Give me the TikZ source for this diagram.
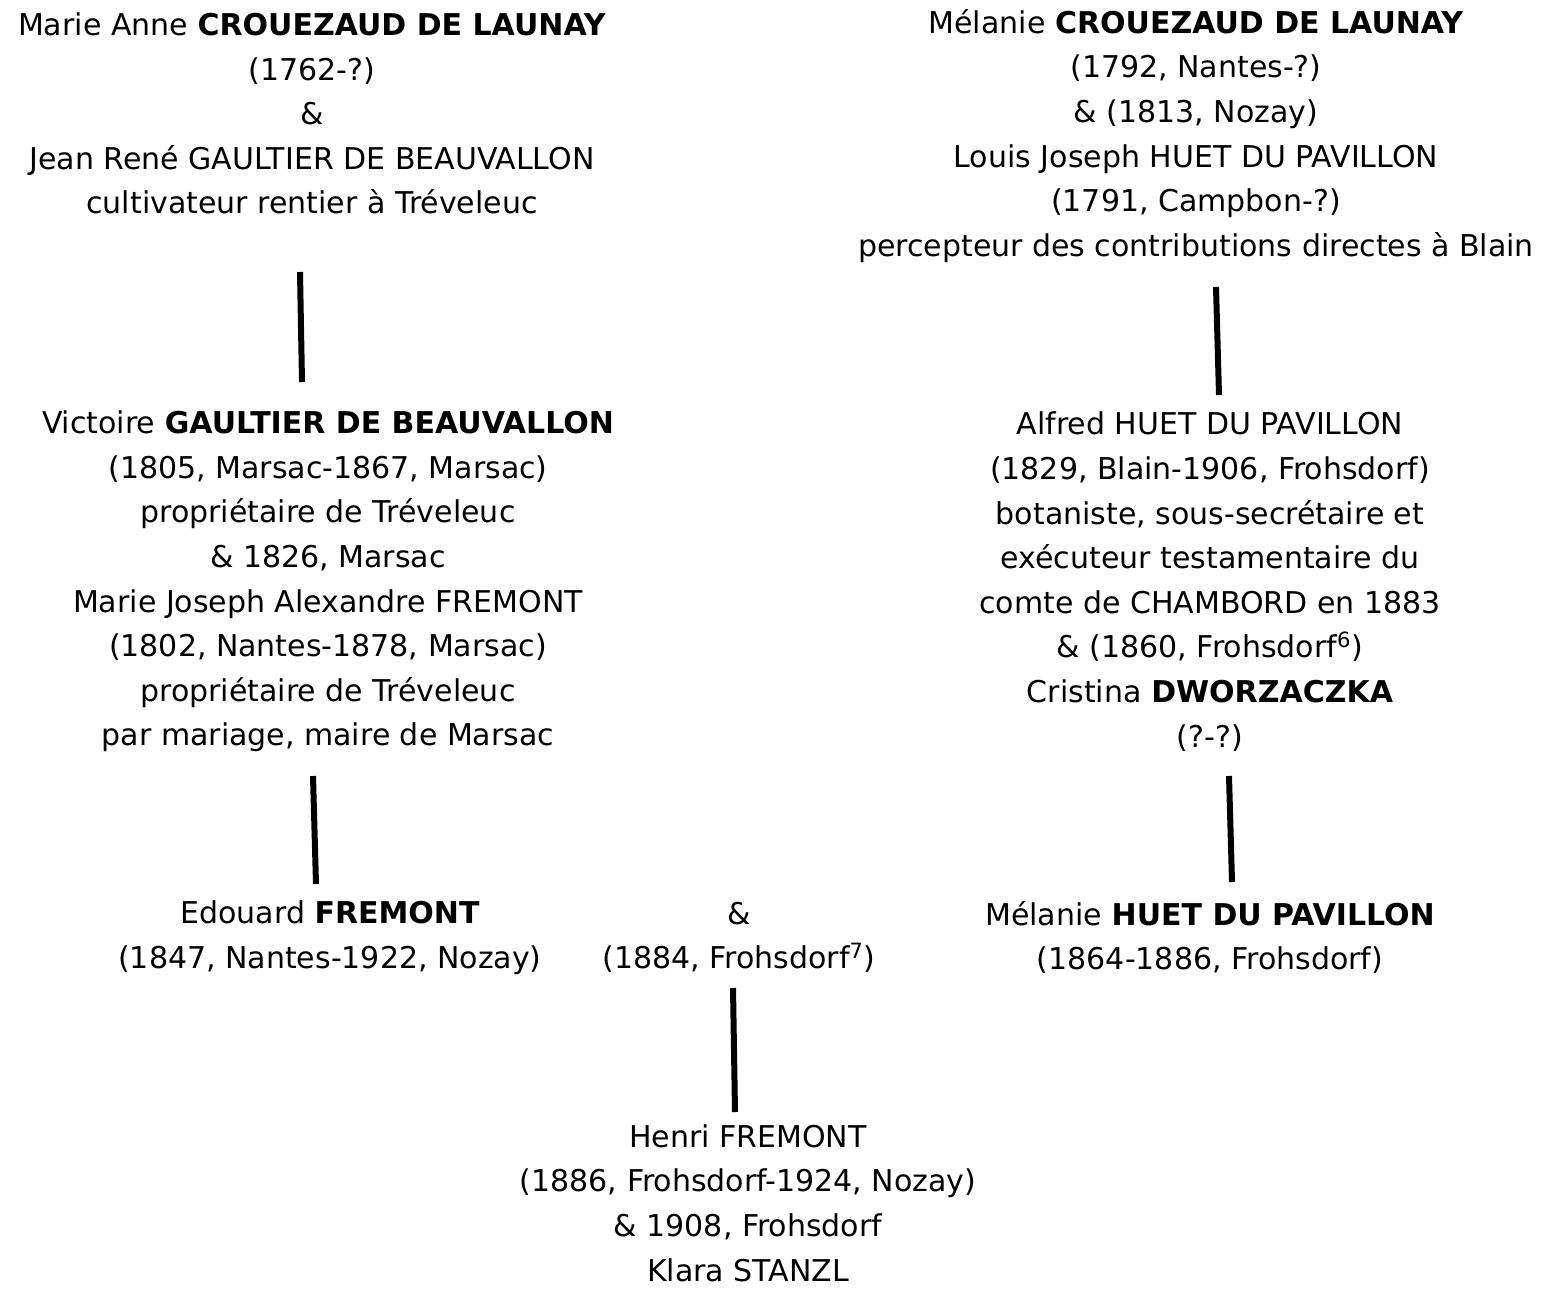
\documentclass[tikz,border=0pt]{standalone}
\usepackage{fontspec}
\setmainfont{DejaVu Sans}
\usetikzlibrary{positioning}

\tikzset{
  person/.style={align=center,inner sep=0pt,font=\fontsize{15}{22.3}\selectfont},
  link/.style={line width=3pt}
}

\begin{document}
\begin{tikzpicture}[x=0.5pt,y=-0.5pt]
\useasboundingbox (0,0) rectangle (1547,1289);

\node[person] (anne) at (312,113.5) {Marie Anne \textbf{CROUEZAUD DE LAUNAY}\\(1762-?)\\\&\\Jean René GAULTIER DE BEAUVALLON\\cultivateur rentier à Tréveleuc};
\node[person] (melanie) at (1196,136) {Mélanie \textbf{CROUEZAUD DE LAUNAY}\\(1792, Nantes-?)\\\& (1813, Nozay)\\Louis Joseph HUET DU PAVILLON\\(1791, Campbon-?)\\percepteur des contributions directes à Blain};

\node[person] (victoire) at (328,581.5) {Victoire \textbf{GAULTIER DE BEAUVALLON}\\(1805, Marsac-1867, Marsac)\\propriétaire de Tréveleuc\\\& 1826, Marsac\\Marie Joseph Alexandre FREMONT\\(1802, Nantes-1878, Marsac)\\propriétaire de Tréveleuc\\par mariage, maire de Marsac};
\node[person] (alfred) at (1210,581.5) {Alfred HUET DU PAVILLON\\(1829, Blain-1906, Frohsdorf)\\botaniste, sous-secrétaire et\\exécuteur testamentaire du\\comte de CHAMBORD en 1883\\\& (1860, Frohsdorf\textsuperscript{6})\\Cristina \textbf{DWORZACZKA}\\(?-?)};

\node[person] (edouard) at (330,937.5) {Edouard \textbf{FREMONT}\\(1847, Nantes-1922, Nozay)};
\node[person] (mariage) at (739,937.5) {\&\\(1884, Frohsdorf\textsuperscript{7})};
\node[person] (melanie2) at (1210,937.5) {Mélanie \textbf{HUET DU PAVILLON}\\(1864-1886, Frohsdorf)};

\node[person] (henri) at (748,1203) {Henri FREMONT\\(1886, Frohsdorf-1924, Nozay)\\\& 1908, Frohsdorf\\Klara STANZL};

% filiations
\coordinate (anne-b) at (300,272);
\coordinate (victoire-t) at (302,382);
\coordinate (melanie-b) at (1216,287);
\coordinate (alfred-t) at (1219,395);
\coordinate (victoire-b) at (313,776);
\coordinate (edouard-t) at (316,884);
\coordinate (alfred-b) at (1229,776);
\coordinate (melanie2-t) at (1232,882);
\coordinate (mariage-b) at (733,988);
\coordinate (henri-t) at (735,1112);

\draw[link] (anne-b) -- (victoire-t);
\draw[link] (melanie-b) -- (alfred-t);
\draw[link] (victoire-b) -- (edouard-t);
\draw[link] (alfred-b) -- (melanie2-t);
\draw[link] (mariage-b) -- (henri-t);

\end{tikzpicture}
\end{document}
